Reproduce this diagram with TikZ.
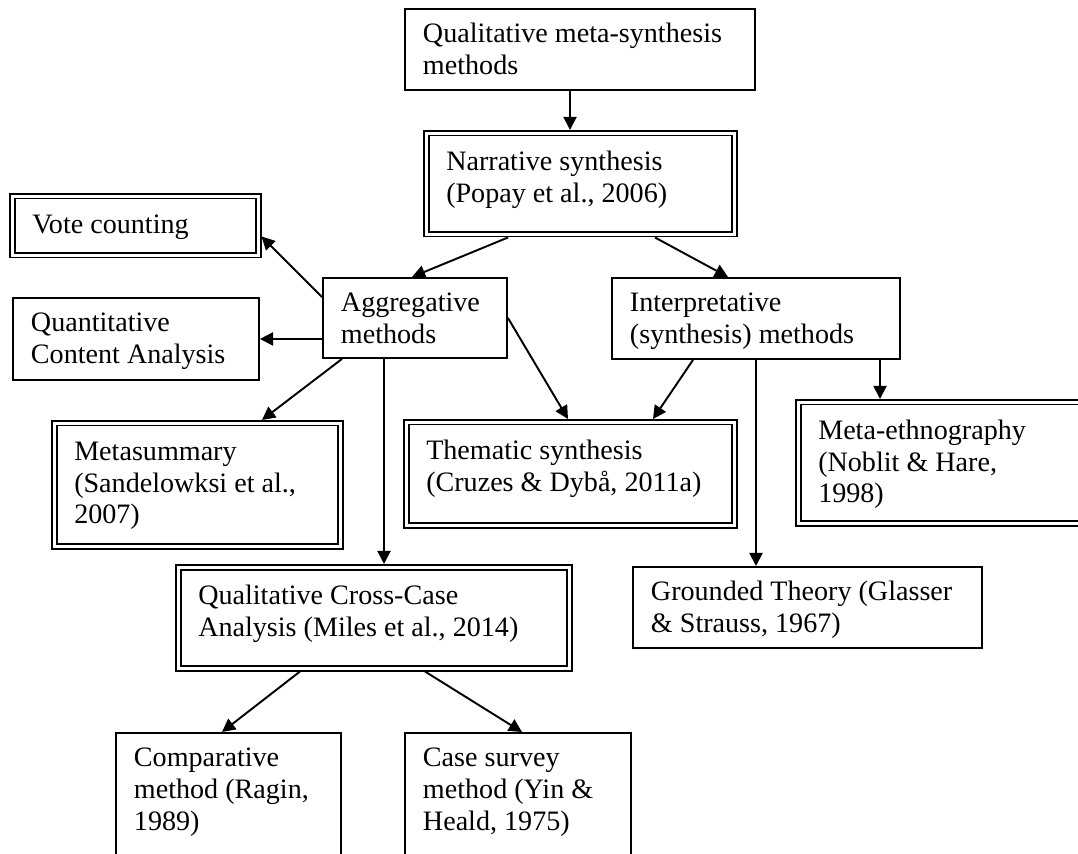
\documentclass[tikz,border=0pt]{standalone}
\usepackage{fontspec}
\setmainfont{Liberation Serif}
\usetikzlibrary{arrows.meta}
\newdimen\pxu \pxu=0.02cm
\newcommand{\bx}[4][34]{\parbox[t][#3\pxu][t]{#2\pxu}{\raggedright\rule{0pt}{#1\pxu}#4}}
\tikzset{
	sbox/.style={draw, line width=1.1pt, anchor=north west, inner xsep=18\pxu, inner ysep=0pt, outer sep=0.55pt, font=\fontsize{16}{18.1}\selectfont},
	dbox/.style={sbox, double, double distance=1.5pt, inner xsep=20\pxu, outer sep=1.85pt},
	arr/.style={-{Triangle[length=7.5pt,width=7.5pt]}, line width=1.1pt}
}
\begin{document}
\begin{tikzpicture}[x=0.02cm,y=-0.02cm]
		\useasboundingbox (0,0) rectangle (1078,854);
		% boxes
		\node[sbox] at (404,8) (meta) {\bx{314}{81}{Qualitative meta-synthesis\\methods}};
		\node[dbox] at (423,130) (narr) {\bx[37]{268}{101}{Narrative synthesis\\(Popay et al., 2006)}};
		\node[dbox] at (9,193) (vote) {\bx[37]{206}{59}{Vote counting}};
		\node[sbox] at (322,277) (aggr) {\bx{148}{80}{Aggregative\\methods}};
		\node[sbox] at (12,297) (quant) {\bx{210}{82}{Quantitative\\Content Analysis}};
		\node[sbox] at (611,277) (interp) {\bx{252}{81}{Interpretative\\(synthesis) methods}};
		\node[dbox] at (51,420) (msum) {\bx[37]{246}{123}{Metasummary\\(Sandelowksi et al.,\\2007)}};
		\node[dbox] at (403,419) (them) {\bx[37]{288}{103}{Thematic synthesis\\(Cruzes \& Dybå, 2011a)}};
		\node[dbox] at (795,399) (ethno) {\bx[37]{253}{121}{Meta-ethnography\\(Noblit \& Hare,\\1998)}};
		\node[dbox] at (175,564) (cross) {\bx[37]{351}{101}{Qualitative Cross-Case\\Analysis (Miles et al., 2014)}};
		\node[sbox] at (632,566) (grnd) {\bx{313}{81}{Grounded Theory (Glasser\\\& Strauss, 1967)}};
		\node[sbox] at (115,732) (comp) {\bx{189}{138}{Comparative\\method (Ragin,\\1989)}};
		\node[sbox] at (404,732) (csurv) {\bx{190}{138}{Case survey\\method (Yin \&\\Heald, 1975)}};
		% arrows
		\draw[arr] ([xshift=166\pxu]meta.south west) -- ([xshift=147\pxu]narr.north west);
		\draw[arr] ([xshift=85\pxu]narr.south west) -- ([xshift=90\pxu]aggr.north west);
		\draw[arr] ([xshift=232\pxu]narr.south west) -- ([xshift=117\pxu]interp.north west);
		\draw[arr] ([yshift=-20\pxu]aggr.north west) -- ([yshift=22\pxu]vote.south east);
		\draw[arr] (aggr.west |- quant.east) -- (quant.east);
		\draw[arr] ([xshift=20\pxu]aggr.south west) -- ([xshift=211\pxu]msum.north west);
		\draw[arr] ([xshift=62\pxu]aggr.south west) -- ([xshift=209\pxu]cross.north west);
		\draw[arr] (aggr.east) -- ([xshift=165\pxu]them.north west);
		\draw[arr] ([xshift=82\pxu]interp.south west) -- ([xshift=250\pxu]them.north west);
		\draw[arr] ([xshift=145\pxu]interp.south west) -- ([xshift=124\pxu]grnd.north west);
		\draw[arr] ([xshift=269\pxu]interp.south west) -- ([xshift=85\pxu]ethno.north west);
		\draw[arr] ([xshift=125\pxu]cross.south west) -- ([xshift=107\pxu]comp.north west);
		\draw[arr] ([xshift=250\pxu]cross.south west) -- ([xshift=118\pxu]csurv.north west);
	\end{tikzpicture}
\end{document}
